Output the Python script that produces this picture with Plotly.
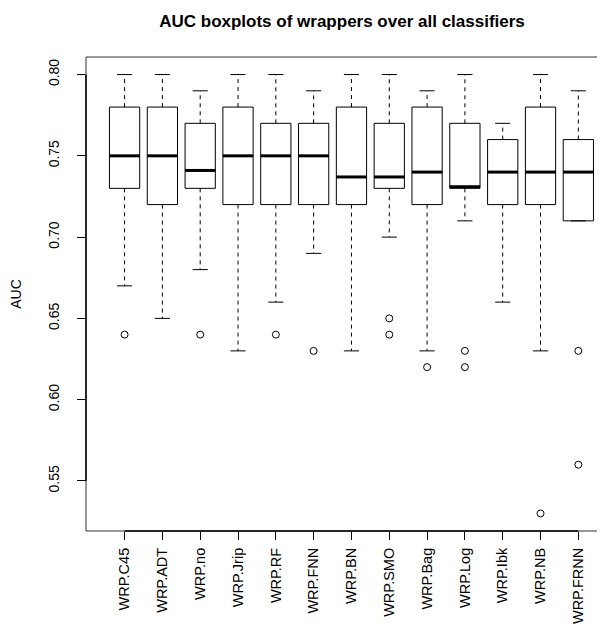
import plotly.graph_objects as go

categories = ["WRP.C45", "WRP.ADT", "WRP.no", "WRP.Jrip", "WRP.RF", "WRP.FNN", "WRP.BN",
              "WRP.SMO", "WRP.Bag", "WRP.Log", "WRP.Ibk", "WRP.NB", "WRP.FRNN"]
upper_whisker = [0.80, 0.80, 0.79, 0.80, 0.80, 0.79, 0.80, 0.80, 0.79, 0.80, 0.77, 0.80, 0.79]
q3_vals       = [0.78, 0.78, 0.77, 0.78, 0.77, 0.77, 0.78, 0.77, 0.78, 0.77, 0.76, 0.78, 0.76]
median_vals   = [0.75, 0.75, 0.741, 0.75, 0.75, 0.75, 0.737, 0.737, 0.74, 0.731, 0.74, 0.74, 0.74]
q1_vals       = [0.73, 0.72, 0.73, 0.72, 0.72, 0.72, 0.72, 0.73, 0.72, 0.73, 0.72, 0.72, 0.71]
lower_whisker = [0.67, 0.65, 0.68, 0.63, 0.66, 0.69, 0.63, 0.70, 0.63, 0.71, 0.66, 0.63, 0.71]
outliers = [[0.64], [], [0.64], [], [0.64], [0.63], [], [0.65, 0.64], [0.62], [0.63, 0.62],
            [], [0.53], [0.63, 0.56]]
y_ticks = [0.55, 0.60, 0.65, 0.70, 0.75, 0.80]

FONT = "Liberation Sans, Arial, Helvetica, sans-serif"
xs = list(range(1, len(categories) + 1))
HALF = 0.4
CAP = 0.2

fig = go.Figure()

# boxes (whiskers collapsed; drawn separately as dashed lines)
for i, x in enumerate(xs):
    fig.add_trace(go.Box(
        x=[x], q1=[q1_vals[i]], median=[median_vals[i]], q3=[q3_vals[i]],
        lowerfence=[q1_vals[i]], upperfence=[q3_vals[i]],
        width=0.8, whiskerwidth=0, fillcolor="white",
        line=dict(color="black", width=1), showlegend=False, hoverinfo="skip"))

# dashed whiskers
wx, wy = [], []
for i, x in enumerate(xs):
    wx += [x, x, None, x, x, None]
    wy += [q3_vals[i], upper_whisker[i], None, q1_vals[i], lower_whisker[i], None]
fig.add_trace(go.Scatter(x=wx, y=wy, mode="lines", line=dict(color="black", width=1, dash="4px,4px"),
                         showlegend=False, hoverinfo="skip"))
# caps
cx, cy = [], []
for i, x in enumerate(xs):
    cx += [x - CAP, x + CAP, None, x - CAP, x + CAP, None]
    cy += [upper_whisker[i], upper_whisker[i], None, lower_whisker[i], lower_whisker[i], None]
fig.add_trace(go.Scatter(x=cx, y=cy, mode="lines", line=dict(color="black", width=1),
                         showlegend=False, hoverinfo="skip"))
# thick medians
mx, my = [], []
for i, x in enumerate(xs):
    mx += [x - HALF, x + HALF, None]
    my += [median_vals[i], median_vals[i], None]
fig.add_trace(go.Scatter(x=mx, y=my, mode="lines", line=dict(color="black", width=3),
                         showlegend=False, hoverinfo="skip"))
# outliers
ox, oy = [], []
for i, x in enumerate(xs):
    for v in outliers[i]:
        ox.append(x)
        oy.append(v)
fig.add_trace(go.Scatter(x=ox, y=oy, mode="markers",
                         marker=dict(symbol="circle-open", size=7, color="black", line=dict(width=1)),
                         showlegend=False, hoverinfo="skip"))

# frame and axis lines
fig.add_shape(type="rect", xref="paper", yref="paper", x0=0, x1=1, y0=0, y1=1,
              line=dict(color="#333333", width=1))
fig.add_shape(type="line", xref="paper", yref="y", x0=0, x1=0, y0=y_ticks[0], y1=y_ticks[-1],
              line=dict(color="black", width=1.5))
fig.add_shape(type="line", xref="x", yref="paper", x0=xs[0], x1=xs[-1], y0=0, y1=0,
              line=dict(color="black", width=1.5))

fig.update_layout(
    width=605, height=624,
    margin=dict(l=78, r=15, t=49, b=101, autoexpand=False),
    paper_bgcolor="white", plot_bgcolor="white",
    font=dict(family=FONT, size=14, color="black"),
    title=dict(text="<b>AUC boxplots of wrappers over all classifiers</b>",
               x=0.5, xref="paper", y=1 - 13 / 624, yref="container", yanchor="middle",
               font=dict(size=17), automargin=False),
    xaxis=dict(range=[-0.02, 13.52], tickmode="array", tickvals=xs, ticktext=categories,
               tickangle=-90, ticks="outside", ticklen=8, tickcolor="black",
               tickfont=dict(size=14.5), ticklabelstandoff=2, automargin=False,
               showgrid=False, zeroline=False, showline=False),
    yaxis=dict(range=[0.5192, 0.8108], tickmode="array", tickvals=y_ticks,
               ticktext=[f"{v:.2f}" for v in y_ticks], tickangle=-90,
               ticks="outside", ticklen=8, tickcolor="black",
               tickfont=dict(size=14), ticklabelstandoff=12, automargin=False,
               showgrid=False, zeroline=False, showline=False,
               title=dict(text="AUC", standoff=24, font=dict(size=14))),
)

fig.write_html("out.html")
